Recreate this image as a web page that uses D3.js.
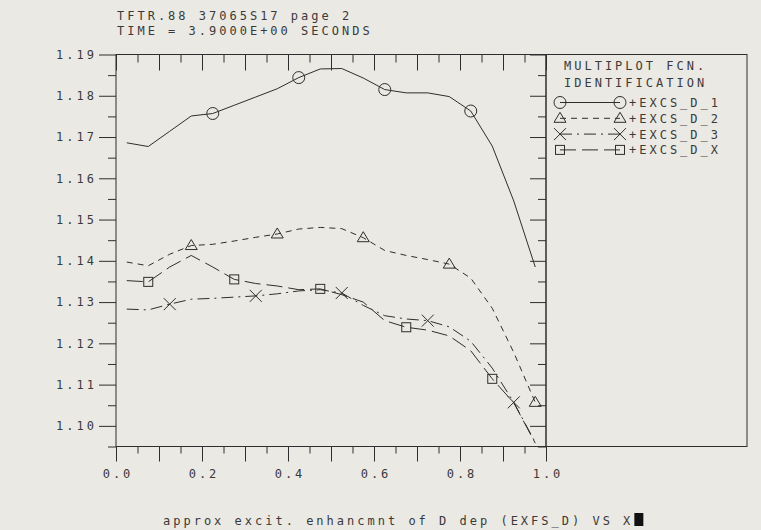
<!DOCTYPE html>
<html>
<head>
<meta charset="utf-8">
<script src="https://cdn.jsdelivr.net/npm/d3@7"></script>
<style>
  body { margin: 0; background: #ebe9e3; }
  svg { display: block; }
  text { font-family: "DejaVu Sans Mono", monospace; font-size: 12px; fill: #3a3a3a; letter-spacing: 3px; }
</style>
</head>
<body>
<div id="chart"></div>
<script>
// x positions of the sample points
var xs = [0.025, 0.075, 0.125, 0.175, 0.225, 0.275, 0.325, 0.375, 0.425, 0.475,
          0.525, 0.575, 0.625, 0.675, 0.725, 0.775, 0.825, 0.875, 0.925, 0.975];

var excsD1 = [1.1686, 1.1677, 1.1714, 1.1751, 1.1757, 1.1777, 1.1797, 1.1817, 1.1844, 1.1865,
              1.1866, 1.1843, 1.1815, 1.1807, 1.1807, 1.1798, 1.1763, 1.1678, 1.1545, 1.1385];
var excsD2 = [1.1397, 1.1388, 1.1416, 1.1437, 1.1440, 1.1448, 1.1457, 1.1465, 1.1477, 1.1481,
              1.1478, 1.1456, 1.1425, 1.1413, 1.1403, 1.1392, 1.1358, 1.1285, 1.1178, 1.1057];
var excsD3 = [1.1283, 1.1281, 1.1295, 1.1307, 1.1309, 1.1312, 1.1315, 1.1320, 1.1327, 1.1330,
              1.1322, 1.1292, 1.1267, 1.1259, 1.1255, 1.1240, 1.1205, 1.1140, 1.1057, 1.0960];
var excsDX = [1.1352, 1.1349, 1.1385, 1.1413, 1.1385, 1.1355, 1.1345, 1.1339, 1.1330, 1.1332,
              1.1318, 1.1300, 1.1255, 1.1239, 1.1232, 1.1218, 1.1182, 1.1114, 1.1056, 1.0958];

// which sample points get a marker
var marks1 = [4, 8, 12, 16];
var marks2 = [3, 7, 11, 15, 19];
var marks3 = [2, 6, 10, 14, 18];
var marksX = [1, 5, 9, 13, 17];

var seriesNames = ["+EXCS_D_1", "+EXCS_D_2", "+EXCS_D_3", "+EXCS_D_X"];
var xTickLabels = [0.0, 0.2, 0.4, 0.6, 0.8, 1.0];
var yTickLabels = [1.10, 1.11, 1.12, 1.13, 1.14, 1.15, 1.16, 1.17, 1.18, 1.19];

var titleLines = ["TFTR.88 37065S17 page 2", "TIME = 3.9000E+00 SECONDS"];
var xTitle = "approx excit. enhancmnt of D dep (EXFS_D) VS X";
var legendTitle = ["MULTIPLOT FCN.", "IDENTIFICATION"];

(function() {
    var W = 761, H = 530;
    var left = 116, right = 546, top = 54.5, bottom = 446.5;
    var ink = "#2e2e2e";

    var svg = d3.select("#chart").append("svg")
        .attr("width", W)
        .attr("height", H);

    var x = d3.scaleLinear().domain([0, 1]).range([left, right]);
    var y = d3.scaleLinear().domain([1.095, 1.19]).range([bottom, top]);

    var xMajor = d3.range(0, 11).map(function(i) { return i / 10; });
    var xMinor = d3.range(0, 10).map(function(i) { return i / 10 + 0.05; });
    var yMajor = yTickLabels;
    var yMinor = d3.range(0, 19).map(function(i) { return 1.095 + i * 0.01; }).filter(function(v) { return v < 1.19; });

    function style(g) {
        g.select(".domain").remove();
        g.selectAll("line").attr("stroke", ink).attr("stroke-width", 1);
    }

    // titles
    svg.selectAll(".title").data(titleLines).enter().append("text")
        .attr("class", "title")
        .attr("x", 117)
        .attr("y", function(d, i) { return 19.5 + i * 15; })
        .text(function(d) { return d; });

    // legend box (shares the right edge of the frame)
    svg.append("rect")
        .attr("x", right).attr("y", top)
        .attr("width", 747 - right).attr("height", bottom - top)
        .attr("fill", "none").attr("stroke", ink);

    // frame
    svg.append("rect")
        .attr("x", left).attr("y", top)
        .attr("width", right - left).attr("height", bottom - top)
        .attr("fill", "none").attr("stroke", ink);

    // left axis: labels + outward ticks
    svg.append("g")
        .attr("transform", "translate(" + left + ",0)")
        .call(d3.axisLeft(y).tickValues(yMajor).tickSize(17).tickPadding(2)
              .tickFormat(d3.format(".2f")))
        .call(style)
        .selectAll("text").attr("font-family", null).attr("font-size", null).attr("fill", null);
    svg.append("g")
        .attr("transform", "translate(" + left + ",0)")
        .call(d3.axisLeft(y).tickValues(yMinor).tickSize(8).tickFormat(""))
        .call(style);

    // right axis: inward ticks
    svg.append("g")
        .attr("transform", "translate(" + right + ",0)")
        .call(d3.axisRight(y).tickValues(yMajor).tickSize(-16).tickFormat(""))
        .call(style);
    svg.append("g")
        .attr("transform", "translate(" + right + ",0)")
        .call(d3.axisRight(y).tickValues(yMinor).tickSize(-8).tickFormat(""))
        .call(style);

    // bottom axis: outward ticks + labels
    svg.append("g")
        .attr("transform", "translate(0," + bottom + ")")
        .call(d3.axisBottom(x).tickValues(xMajor).tickSize(15).tickPadding(8)
              .tickFormat(function(d) {
                  return xTickLabels.some(function(t) { return Math.abs(t - d) < 1e-9; }) ? d3.format(".1f")(d) : "";
              }))
        .call(style)
        .selectAll("text").attr("font-family", null).attr("font-size", null).attr("fill", null)
        .attr("dx", "1.5px");
    svg.append("g")
        .attr("transform", "translate(0," + bottom + ")")
        .call(d3.axisBottom(x).tickValues(xMinor).tickSize(7).tickFormat(""))
        .call(style);

    // top axis: inward ticks
    svg.append("g")
        .attr("transform", "translate(0," + top + ")")
        .call(d3.axisTop(x).tickValues(xMajor).tickSize(-16).tickFormat(""))
        .call(style);
    svg.append("g")
        .attr("transform", "translate(0," + top + ")")
        .call(d3.axisTop(x).tickValues(xMinor).tickSize(-8).tickFormat(""))
        .call(style);

    // series
    var series = [
        {name: seriesNames[0], values: excsD1, marks: marks1, dash: null, marker: "circle"},
        {name: seriesNames[1], values: excsD2, marks: marks2, dash: "6,5", marker: "triangle"},
        {name: seriesNames[2], values: excsD3, marks: marks3, dash: "12,5,2,5", marker: "cross"},
        {name: seriesNames[3], values: excsDX, marks: marksX, dash: "16,6", marker: "square"}
    ];

    var line = d3.line()
        .x(function(d) { return x(d[0]); })
        .y(function(d) { return y(d[1]); });

    function drawMarker(g, type, cx, cy) {
        if (type === "circle") {
            g.append("circle").attr("cx", cx).attr("cy", cy).attr("r", 6);
        } else if (type === "triangle") {
            g.append("path").attr("d", "M" + (cx - 6) + "," + (cy + 4) + "L" + cx + "," + (cy - 6) + "L" + (cx + 6) + "," + (cy + 4) + "Z");
        } else if (type === "cross") {
            g.append("path").attr("d", "M" + (cx - 6) + "," + (cy - 6) + "L" + (cx + 6) + "," + (cy + 6) +
                                       "M" + (cx - 6) + "," + (cy + 6) + "L" + (cx + 6) + "," + (cy - 6));
        } else {
            g.append("rect").attr("x", cx - 4.5).attr("y", cy - 4.5).attr("width", 9).attr("height", 9);
        }
    }

    series.forEach(function(s) {
        var pts = xs.map(function(xv, i) { return [xv, s.values[i]]; });
        svg.append("path")
            .datum(pts)
            .attr("d", line)
            .attr("fill", "none")
            .attr("stroke", ink)
            .attr("stroke-width", 1)
            .attr("stroke-dasharray", s.dash);

        var mg = svg.append("g").attr("fill", "none").attr("stroke", ink).attr("stroke-width", 1);
        s.marks.forEach(function(i) {
            drawMarker(mg, s.marker, x(xs[i]), y(s.values[i]));
        });
    });

    // legend
    svg.selectAll(".ltitle").data(legendTitle).enter().append("text")
        .attr("class", "ltitle")
        .attr("x", 564)
        .attr("y", function(d, i) { return 69.5 + i * 17; })
        .text(function(d) { return d; });

    series.forEach(function(s, i) {
        var ly = 102.5 + i * 15.8;
        svg.append("line")
            .attr("x1", 560).attr("x2", 620)
            .attr("y1", ly).attr("y2", ly)
            .attr("stroke", ink).attr("stroke-width", 1)
            .attr("stroke-dasharray", s.dash);
        var mg = svg.append("g").attr("fill", "none").attr("stroke", ink).attr("stroke-width", 1);
        drawMarker(mg, s.marker, 560, ly);
        drawMarker(mg, s.marker, 620, ly);
        svg.append("text")
            .attr("x", 629)
            .attr("y", ly + 4.5)
            .text(s.name);
    });

    // x title with the terminal cursor block
    var xt = svg.append("text")
        .attr("x", 163)
        .attr("y", 525)
        .text(xTitle);
    var len = xt.node().getComputedTextLength();
    svg.append("rect")
        .attr("x", 163 + len + 1)
        .attr("y", 513)
        .attr("width", 9)
        .attr("height", 13)
        .attr("fill", "#111");
})();
</script>
</body>
</html>
